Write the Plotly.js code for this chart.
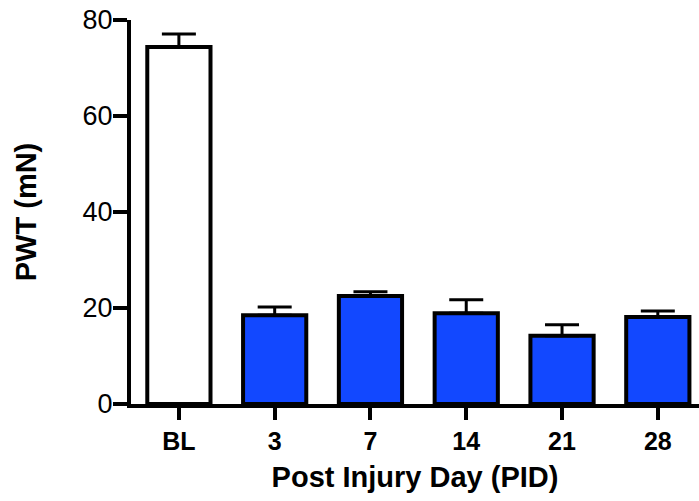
<!DOCTYPE html>
<html>
<head>
<script src="https://cdn.plot.ly/plotly-3.0.1.min.js"></script>
<style>html,body{margin:0;padding:0;background:#fff;}#chart{width:699px;height:501px;}</style>
</head>
<body>
<div id="chart"></div>
<script>
const categories = ["BL", "3", "7", "14", "21", "28"];
const pwtMean = [74.4, 18.5, 22.5, 18.9, 14.2, 18.1];
const pwtSem = [2.7, 1.7, 0.9, 2.8, 2.3, 1.3];
const barColors = ["#ffffff", "#1248ff", "#1248ff", "#1248ff", "#1248ff", "#1248ff"];

const trace = {
  type: "bar",
  x: categories,
  y: pwtMean,
  width: 0.66,
  marker: { color: barColors, line: { color: "#000", width: 4 } },
  error_y: { type: "data", symmetric: false, array: pwtSem, arrayminus: pwtSem.map(() => 0), color: "#000", thickness: 3, width: 17 },
  hoverinfo: "none"
};

const layout = {
  width: 699, height: 501,
  margin: { l: 131, r: 0, t: 20, b: 97 },
  paper_bgcolor: "#fff", plot_bgcolor: "#fff",
  showlegend: false,
  font: { family: "Liberation Sans, Arial, sans-serif", color: "#000" },
  xaxis: {
    type: "category",
    range: [-0.5, 5.43],
    showline: true, linewidth: 4, linecolor: "#000",
    ticks: "outside", ticklen: 12, tickwidth: 4, tickcolor: "#000",
    tickfont: { size: 25, weight: "bold" },
    showgrid: false, zeroline: false,
    title: { text: "Post Injury Day (PID)", font: { size: 29, weight: "bold" }, standoff: 14 }
  },
  yaxis: {
    range: [0, 80],
    tickvals: [0, 20, 40, 60, 80],
    showline: true, linewidth: 4, linecolor: "#000",
    ticks: "outside", ticklen: 14, tickwidth: 4, tickcolor: "#000",
    tickfont: { size: 27 },
    ticklabelstandoff: -5,
    showgrid: false, zeroline: false,
    title: { text: "PWT (mN)", font: { size: 29, weight: "bold" }, standoff: 38 }
  }
};

Plotly.newPlot("chart", [trace], layout, { displayModeBar: false, staticPlot: true });
</script>
</body>
</html>
